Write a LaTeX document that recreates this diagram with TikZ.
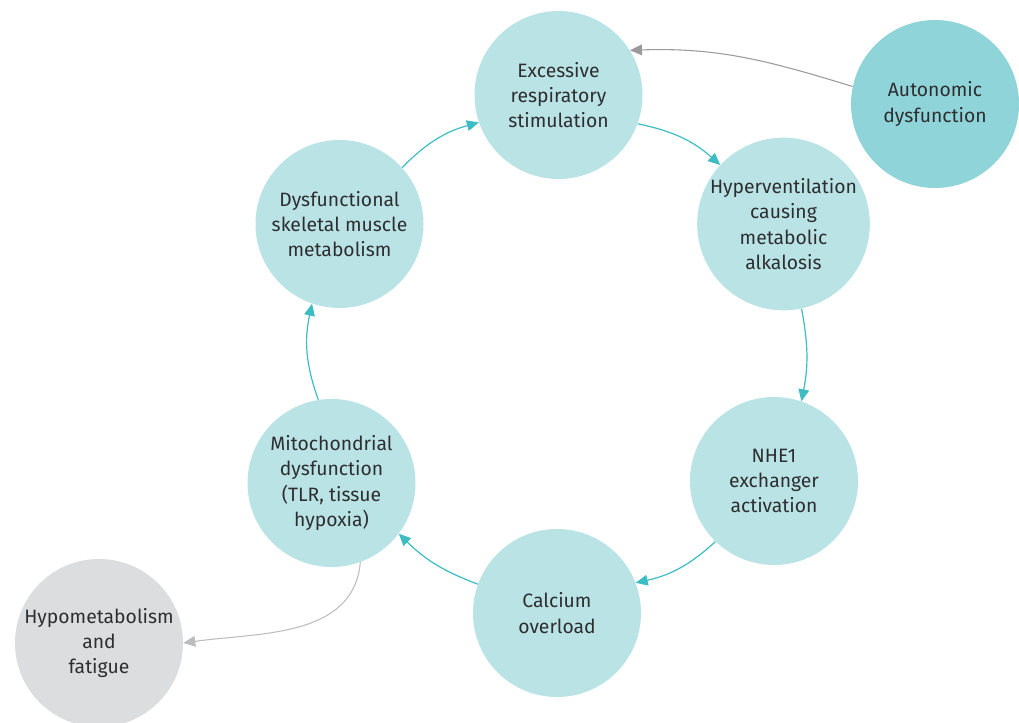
\documentclass[tikz,border=0pt]{standalone}
\usepackage{fontspec}
\setmainfont{Fira Sans}
\usetikzlibrary{arrows.meta}
\definecolor{ringfill}{HTML}{B9E3E5}
\definecolor{drivefill}{HTML}{8FD4D8}
\definecolor{outfill}{HTML}{DCDDDF}
\definecolor{flowteal}{HTML}{3CBCC3}
\definecolor{drivegrey}{HTML}{9A9A9E}
\definecolor{outgrey}{HTML}{BDBDBF}
\definecolor{labelgrey}{HTML}{2E2E30}

\begin{document}
\begin{tikzpicture}[x=0.75pt,y=0.75pt]
                    \tikzstyle{stage} = [circle, fill=ringfill, minimum size=126pt, inner sep=0pt, align=center, text=labelgrey, font=\fontsize{14.5}{19}\selectfont]
                    \tikzstyle{flow} = [draw=flowteal, line width=0.9pt, -{Triangle[length=9pt,width=8pt]}]
                    \useasboundingbox (0, 0) rectangle (1019, 723);
                    \node[stage] (exc) at (558.5, 628) {Excessive\\respiratory\\stimulation};
                    \node[stage, fill=drivefill] (aut) at (935, 619) {Autonomic\\dysfunction};
                    \node[stage] (hyp) at (783.5, 499) {Hyperventilation\\causing\\metabolic\\alkalosis};
                    \node[stage] (nhe) at (774, 242) {NHE1\\exchanger\\activation};
                    \node[stage] (cal) at (557, 110) {Calcium\\overload};
                    \node[stage] (mit) at (331.5, 240) {Mitochondrial\\dysfunction\\(TLR, tissue\\hypoxia)};
                    \node[stage] (dys) at (339.5, 499) {Dysfunctional\\skeletal muscle\\metabolism};
                    \node[stage, fill=outfill] (hypo) at (99, 80) {Hypometabolism\\and\\fatigue};
                    \draw[flow] (exc.-20) to[bend left=15] (hyp.137);
                    \draw[flow] (hyp.-78) to[bend left=11] (nhe.71);
                    \draw[flow] (nhe.-134) to[bend left=15] (cal.21);
                    \draw[flow] (cal.160) to[bend left=12] (mit.-37);
                    \draw[flow] (mit.99) to[bend left=16] (dys.-109);
                    \draw[flow] (dys.42) to[bend left=15] (exc.-161);
                    \draw[flow, draw=drivegrey, line width=0.8pt] (aut.168) to[out=163, in=2] (exc.32);
                    \draw[flow, draw=outgrey, line width=0.8pt] (mit.-70) to[out=-95, in=8] (hypo.0);
                \end{tikzpicture}
\end{document}
